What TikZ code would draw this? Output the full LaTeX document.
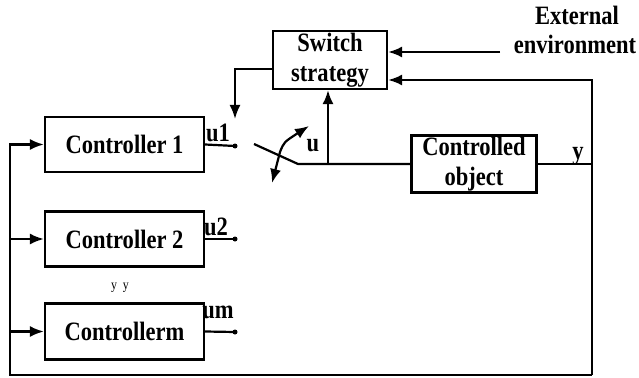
\documentclass[tikz,border=0pt]{standalone}
\usepackage{fontspec}
\setmainfont{Liberation Serif}[FakeStretch=0.85]
\usetikzlibrary{arrows.meta,positioning}

\tikzset{
  block/.style={draw, line width=2.2pt, align=center, inner sep=0pt,
    font=\bfseries\fontsize{26.5}{30}\selectfont},
  arr/.style={line width=2.2pt, -{Latex[length=14pt,width=11pt]}},
  wire/.style={line width=2.2pt},
  lbl/.style={font=\bfseries\fontsize{26.5}{28}\selectfont, inner sep=0pt}
}

\begin{document}
\begin{tikzpicture}[x=1pt, y=-1pt]
  \useasboundingbox (0,0) rectangle (639,377);

  % Blocks
  \node[block, minimum width=114pt, minimum height=58pt] (strat) at (330,60) {Switch\\strategy};
  \node[block, minimum width=125pt, minimum height=57pt] (plant) at (474,164) {Controlled\\object};
  \node[block, minimum width=159pt, minimum height=55pt] (ctrlA) at (124.5,144.5) {Controller 1};
  \node[block, minimum width=159pt, minimum height=55pt] (ctrlB) at (124.5,239) {Controller 2};
  \node[block, minimum width=159pt, minimum height=56pt] (ctrlM) at (124.5,331.5) {Controllerm};

  % Outer labels
  \node[lbl] (ext) at (577,15) {External};
  \node[lbl] (env) at (575,44) {environment};
  \node[font=\fontsize{14}{15}\selectfont, inner sep=0pt] (dots) at (120,288) {y\ \ y};

  % Switch points
  \coordinate (oA) at (235,146);
  \coordinate (oB) at (235,239);
  \coordinate (oM) at (235,332);
  \coordinate (sw0) at (254,144);
  \coordinate (sw1) at (298,164);
  \coordinate (j) at (328,164);
  \coordinate (swTop) at (235,119);
  \coordinate (extA) at (500,52);
  \coordinate (fbTop) at (592,80);
  \coordinate (fbBot) at (592,375);
  \coordinate (fbLeft) at (10,375);

  % Controller outputs
  \draw[wire] (ctrlA.east) -- (oA);
  \draw[wire] (ctrlB.east) -- (oB);
  \draw[wire] (ctrlM.east) -- (oM);
  \foreach \p in {oA,oB,oM}
    \fill (\p) circle (2.5pt);
  \node[lbl] (lA) at (218,133) {u1};
  \node[lbl] (lB) at (216,227) {u2};
  \node[lbl] (lM) at (218,312) {um};

  % Switch lever and its throw
  \draw[wire] (sw0) -- (sw1) -- (j) -- (plant.west);
  \draw[line width=2.2pt, {Latex[length=14pt,width=11pt]}-{Latex[length=14pt,width=11pt]}]
    (272,183) -- (280,152) .. controls (284,142) .. (309,126);
  \node[lbl] (lu) at (313,146) {u};

  % Strategy connections
  \draw[arr] (j) -- (j |- strat.south);
  \draw[arr] ([yshift=-9pt]strat.west) -| (swTop);
  \draw[arr] (extA) -- (extA -| strat.east);

  % Feedback of y
  \draw[wire] (plant.east) -- (plant.east -| fbTop);
  \node[lbl] (ly) at (578,156) {y};
  \draw[arr] (fbBot) -- (fbTop) -- (fbTop -| strat.east);
  \draw[arr] (fbBot) -- (fbLeft) -- (fbLeft |- ctrlA.west) -- (ctrlA.west);
  \draw[arr] (fbLeft |- ctrlB.west) -- (ctrlB.west);
  \draw[arr] (fbLeft |- ctrlM.west) -- (ctrlM.west);
\end{tikzpicture}
\end{document}
